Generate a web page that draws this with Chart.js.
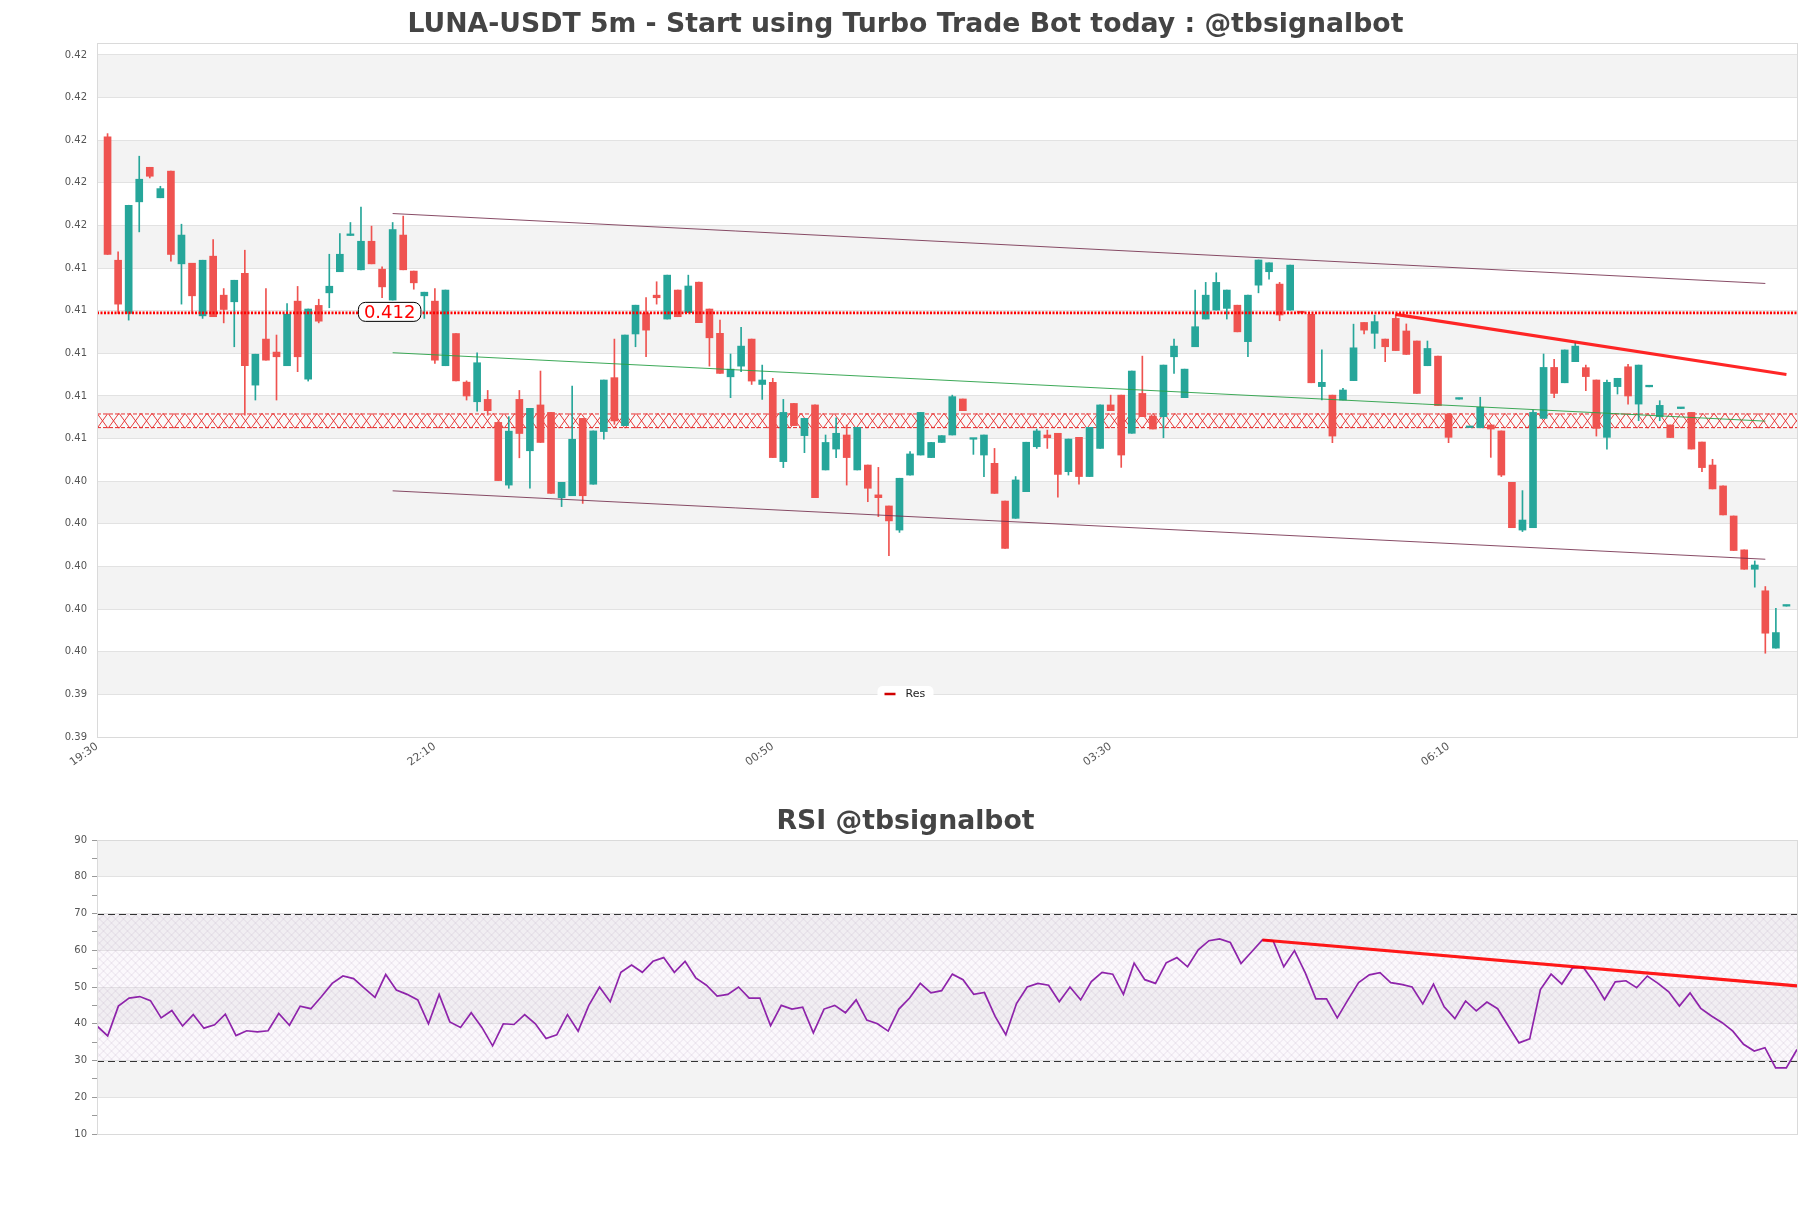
<!DOCTYPE html>
<html><head><meta charset="utf-8">
<script src="https://cdn.jsdelivr.net/npm/chart.js@4.4.1/dist/chart.umd.min.js"></script>
<style>
html,body{margin:0;padding:0;background:#fff;}
#c1{position:absolute;left:0;top:0;}
#c2{position:absolute;left:0;top:790px;}
</style></head><body>
<canvas id="c1" width="1811" height="770"></canvas>
<canvas id="c2" width="1811" height="418"></canvas>
<script>
const mainTitle = 'LUNA-USDT 5m - Start using Turbo Trade Bot today : @tbsignalbot';
const rsiTitle = 'RSI @tbsignalbot';
const xTickPositions = [0, 32, 64, 96, 128];
const xTickLabels = ['19:30', '22:10', '00:50', '03:30', '06:10'];
const yTickValues = [0.392,0.394,0.396,0.398,0.400,0.402,0.404,0.406,0.408,0.410,0.412,0.414,0.416,0.418,0.420,0.422,0.424];
const yRange = [0.392, 0.42456];

const open = [0.42016,0.41437,0.41187,0.41711,0.41873,0.41730,0.41855,0.41420,0.41423,0.41176,
0.41456,0.41273,0.41242,0.41376,0.40851,0.41067,0.41006,0.40942,0.41245,0.40879,
0.41225,0.41284,0.41383,0.41553,0.41392,0.41526,0.41395,0.41250,0.41555,0.41386,
0.41270,0.41245,0.40942,0.41093,0.40865,0.40773,0.40784,0.40676,0.40382,0.40784,
0.40543,0.40758,0.40723,0.40323,0.40332,0.40695,0.40386,0.40633,0.40886,0.40661,
0.41091,0.41187,0.41273,0.41161,0.41297,0.41191,0.41334,0.41208,0.41094,0.40890,
0.40940,0.41067,0.40854,0.40864,0.40492,0.40765,0.40614,0.40758,0.40453,0.40551,
0.40617,0.40453,0.40476,0.40336,0.40284,0.40171,0.40429,0.40523,0.40511,0.40582,
0.40617,0.40786,0.40597,0.40523,0.40484,0.40307,0.40226,0.40351,0.40562,0.40617,
0.40625,0.40445,0.40606,0.40422,0.40554,0.40758,0.40804,0.40625,0.40812,0.40706,
0.40703,0.40984,0.40792,0.41031,0.41161,0.41203,0.41211,0.41226,0.41055,0.41320,
0.41383,0.41325,0.41203,0.41192,0.41183,0.40844,0.40804,0.40781,0.40872,0.41145,
0.41094,0.41067,0.41164,0.41105,0.41058,0.40942,0.40987,0.40716,0.40785,0.40652,
0.40651,0.40664,0.40636,0.40395,0.40171,0.40182,0.40695,0.40934,0.40862,0.40961,
0.40933,0.40875,0.40606,0.40844,0.40937,0.40762,0.40843,0.40703,0.40664,0.40741,
0.40723,0.40584,0.40476,0.40378,0.40237,0.40078,0.39987,0.39886,0.39617,0.39814];
const high = [0.42031,0.41476,0.41695,0.41925,0.41873,0.41784,0.41855,0.41606,0.41423,0.41437,
0.41534,0.41304,0.41343,0.41484,0.40996,0.41304,0.41086,0.41234,0.41314,0.41208,
0.41254,0.41465,0.41562,0.41614,0.41686,0.41597,0.41406,0.41614,0.41644,0.41386,
0.41287,0.41304,0.41297,0.41093,0.40871,0.41003,0.40826,0.40676,0.40703,0.40826,
0.40742,0.40917,0.40723,0.40395,0.40847,0.40695,0.40636,0.40875,0.41067,0.41086,
0.41226,0.41262,0.41336,0.41367,0.41297,0.41367,0.41334,0.41208,0.41156,0.40997,
0.41122,0.41067,0.40945,0.40883,0.40784,0.40765,0.40695,0.40758,0.40617,0.40698,
0.40664,0.40653,0.40476,0.40465,0.40284,0.40414,0.40539,0.40723,0.40582,0.40614,
0.40804,0.40786,0.40599,0.40617,0.40554,0.40307,0.40422,0.40583,0.40645,0.40640,
0.40625,0.40598,0.40606,0.40653,0.40758,0.40804,0.40804,0.40917,0.40987,0.40706,
0.40945,0.41067,0.40926,0.41297,0.41333,0.41378,0.41297,0.41226,0.41273,0.41438,
0.41425,0.41333,0.41414,0.41192,0.41183,0.41016,0.40804,0.40836,0.41137,0.41145,
0.41180,0.41067,0.41184,0.41138,0.41058,0.41058,0.40987,0.40716,0.40787,0.40654,
0.40794,0.40664,0.40636,0.40395,0.40356,0.40734,0.40997,0.40972,0.41016,0.41050,
0.40945,0.40875,0.40875,0.40883,0.40948,0.40945,0.40845,0.40778,0.40664,0.40743,
0.40723,0.40584,0.40503,0.40378,0.40237,0.40078,0.40026,0.39906,0.39804,0.39816];
const low = [0.41464,0.41187,0.41156,0.41570,0.41823,0.41730,0.41433,0.41231,0.41187,0.41164,
0.41172,0.41143,0.41031,0.40710,0.40781,0.40968,0.40781,0.40942,0.40914,0.40870,
0.41143,0.41214,0.41383,0.41553,0.41392,0.41420,0.41261,0.41250,0.41392,0.41301,
0.41164,0.40953,0.40942,0.40871,0.40781,0.40729,0.40710,0.40403,0.40367,0.40510,
0.40367,0.40582,0.40343,0.40281,0.40332,0.40296,0.40386,0.40597,0.40667,0.40661,
0.41031,0.40984,0.41231,0.41161,0.41172,0.41191,0.41144,0.40940,0.40906,0.40792,
0.40914,0.40854,0.40784,0.40511,0.40464,0.40661,0.40534,0.40323,0.40453,0.40511,
0.40382,0.40453,0.40304,0.40234,0.40051,0.40160,0.40429,0.40523,0.40511,0.40582,
0.40617,0.40731,0.40526,0.40422,0.40343,0.40085,0.40226,0.40351,0.40554,0.40554,
0.40325,0.40429,0.40386,0.40422,0.40554,0.40731,0.40465,0.40625,0.40703,0.40645,
0.40604,0.40906,0.40792,0.41031,0.41161,0.41203,0.41161,0.41101,0.40984,0.41284,
0.41348,0.41153,0.41203,0.41190,0.40862,0.40781,0.40581,0.40781,0.40872,0.41091,
0.41023,0.40961,0.41013,0.40995,0.40812,0.40942,0.40755,0.40581,0.40785,0.40652,
0.40651,0.40512,0.40422,0.40182,0.40164,0.40182,0.40695,0.40792,0.40862,0.40961,
0.40825,0.40612,0.40551,0.40809,0.40762,0.40684,0.40843,0.40684,0.40605,0.40741,
0.40551,0.40445,0.40364,0.40242,0.40075,0.39987,0.39903,0.39593,0.39617,0.39814];
const close = [0.41464,0.41231,0.41695,0.41817,0.41831,0.41773,0.41464,0.41555,0.41270,0.41437,
0.41172,0.41206,0.41343,0.40942,0.40996,0.40968,0.40984,0.41184,0.40984,0.41208,
0.41151,0.41315,0.41465,0.41555,0.41526,0.41420,0.41312,0.41581,0.41392,0.41331,
0.41287,0.40968,0.41297,0.40871,0.40800,0.40956,0.40731,0.40403,0.40635,0.40624,
0.40742,0.40582,0.40343,0.40395,0.40597,0.40332,0.40636,0.40875,0.40683,0.41086,
0.41226,0.41109,0.41261,0.41367,0.41172,0.41316,0.41144,0.41073,0.40906,0.40926,
0.41034,0.40870,0.40875,0.40511,0.40723,0.40661,0.40695,0.40323,0.40582,0.40625,
0.40511,0.40653,0.40367,0.40323,0.40214,0.40414,0.40528,0.40723,0.40582,0.40614,
0.40797,0.40731,0.40599,0.40617,0.40343,0.40085,0.40406,0.40583,0.40636,0.40604,
0.40432,0.40598,0.40422,0.40653,0.40758,0.40731,0.40523,0.40917,0.40703,0.40645,
0.40945,0.41034,0.40926,0.41125,0.41273,0.41333,0.41297,0.41101,0.41273,0.41438,
0.41425,0.41180,0.41414,0.41190,0.40862,0.40864,0.40612,0.40828,0.41026,0.41109,
0.41149,0.41031,0.41013,0.40995,0.40812,0.41023,0.40755,0.40606,0.40787,0.40654,
0.40747,0.40645,0.40429,0.40182,0.40218,0.40723,0.40934,0.40812,0.41016,0.41034,
0.40891,0.40648,0.40864,0.40883,0.40800,0.40945,0.40845,0.40756,0.40605,0.40743,
0.40551,0.40464,0.40364,0.40242,0.40075,0.39987,0.40007,0.39687,0.39690,0.39816];

const resLevel = 0.4119;
const resLabel = '0.412';
const resLabelAt = 28;
const zoneRange = [0.40648, 0.40719];
const channelX = [28, 158];
const channelUpper = [0.41656, 0.41328];
const channelLower = [0.40355, 0.40034];
const channelMid = [0.41003, 0.40682];
const trendX = [123, 160];
const trendY = [0.41183, 0.40901];
const xRange = [0, 161];

const rsi = [39.4,36.7,44.8,47.0,47.4,46.3,41.6,43.6,39.4,42.5,
38.8,39.7,42.6,36.8,38.1,37.8,38.1,42.8,39.6,44.8,
44.1,47.4,51.0,53.0,52.3,49.7,47.2,53.4,49.2,48.0,
46.5,40.0,48.0,40.5,39.0,43.0,39.0,34.0,40.0,39.8,
42.5,40.0,36.0,37.0,42.5,38.0,45.0,50.0,46.0,54.0,
56.0,54.0,57.0,58.0,54.0,57.0,52.5,50.5,47.5,48.0,
50.0,47.0,47.0,39.5,45.0,44.0,44.5,37.5,44.0,45.0,
43.0,46.5,41.0,40.0,38.0,44.0,47.0,51.0,48.4,49.0,
53.5,52.0,48.0,48.5,42.0,37.0,45.5,50.0,51.0,50.5,
46.0,50.0,46.5,51.5,54.0,53.5,48.0,56.5,52.0,51.0,
56.6,58.0,55.5,60.1,62.6,63.1,62.1,56.4,59.6,62.8,
62.6,55.5,59.9,53.9,46.8,46.8,41.6,46.5,51.2,53.3,
53.9,51.2,50.7,50.0,45.4,50.8,44.6,41.4,46.2,43.5,
45.9,44.1,39.4,34.8,35.9,49.3,53.5,50.8,55.2,55.4,
51.4,46.6,51.4,51.7,49.8,53.0,51.0,48.7,44.8,48.4,
44.2,42.1,40.3,38.0,34.4,32.6,33.5,28.0,28.0,33.0];
const rsiTrendX = [109, 159];
const rsiTrendY = [62.8, 50.3];
const rsiBands = [30, 70];
const rsiRange = [10, 90];
const rsiBandTicks = [90, 80, 70, 60, 50, 40, 30, 20, 10];

const UP = '#26a69a', DOWN = '#ef5350';
Chart.defaults.font.family = "'DejaVu Sans', 'Liberation Sans', sans-serif";

const candleColors = open.map((o, i) => close[i] >= o ? UP : DOWN);
const pt = (xs, ys) => xs.map((x, i) => ({x, y: ys[i]}));

// empty right-side spacer axis (keeps titles centred on the full canvas)
const spacerAxis = {
  type: 'linear', position: 'right', display: true,
  afterFit: s => { s.width = 14; },
  ticks: {display: false}, grid: {display: false, drawTicks: false}, border: {display: false}
};

function drawBands(chart, values) {
  const {ctx, chartArea: a, scales: {y}} = chart;
  const t = values.slice().sort((p, q) => q - p);
  ctx.save();
  ctx.fillStyle = '#f3f3f3';
  for (let k = 0; k + 1 < t.length; k += 2) {
    const y1 = y.getPixelForValue(t[k]), y2 = y.getPixelForValue(t[k + 1]);
    ctx.fillRect(a.left, y1, a.right - a.left, y2 - y1);
  }
  ctx.restore();
}
function drawBorder(chart) {
  const {ctx, chartArea: a} = chart;
  ctx.save();
  ctx.strokeStyle = '#dadada';
  ctx.lineWidth = 1;
  ctx.strokeRect(Math.round(a.left) + 0.5, Math.round(a.top) + 0.5, Math.round(a.right - a.left), Math.round(a.bottom - a.top));
  ctx.restore();
}

const mainDecor = {
  id: 'mainDecor',
  beforeDraw(chart) {
    const {ctx} = chart;
    ctx.save(); ctx.fillStyle = '#fff'; ctx.fillRect(0, 0, chart.width, chart.height); ctx.restore();
    drawBands(chart, yTickValues);
  },
  beforeDatasetsDraw(chart) {
    const {ctx, chartArea: a, scales: {y}} = chart;
    const t = y.getPixelForValue(zoneRange[1]), b = y.getPixelForValue(zoneRange[0]);
    ctx.save();
    ctx.beginPath(); ctx.rect(a.left, t, a.right - a.left, b - t); ctx.clip();
    ctx.fillStyle = 'rgba(255,255,255,0.5)';
    ctx.fillRect(a.left, t, a.right - a.left, b - t);
    ctx.strokeStyle = 'rgba(230,40,40,0.9)';
    ctx.lineWidth = 1;
    const cw = 11;
    ctx.beginPath();
    for (let x = a.left; x < a.right + cw; x += cw) {
      ctx.moveTo(x, t); ctx.lineTo(x + cw, b);
      ctx.moveTo(x + cw, t); ctx.lineTo(x, b);
    }
    ctx.stroke();
    ctx.setLineDash([4, 2]);
    ctx.lineWidth = 1.3;
    ctx.beginPath();
    ctx.moveTo(a.left, t + 0.7); ctx.lineTo(a.right, t + 0.7);
    ctx.moveTo(a.left, b - 0.7); ctx.lineTo(a.right, b - 0.7);
    ctx.stroke();
    ctx.restore();
  },
  afterDatasetsDraw(chart) {
    const {ctx, chartArea: a, scales: {x, y}} = chart;
    drawBorder(chart);
    const cx = x.getPixelForValue(resLabelAt) - 3, cy = y.getPixelForValue(resLevel) - 1;
    ctx.save();
    ctx.font = "18px 'DejaVu Sans'";
    const w = ctx.measureText(resLabel).width + 11, h = 19;
    ctx.beginPath();
    ctx.roundRect(cx - w / 2, cy - h / 2, w, h, 7);
    ctx.fillStyle = '#fff'; ctx.fill();
    ctx.strokeStyle = '#000'; ctx.lineWidth = 1; ctx.stroke();
    ctx.fillStyle = '#ff0000';
    ctx.textAlign = 'center'; ctx.textBaseline = 'middle';
    ctx.fillText(resLabel, cx, cy + 1);
    const lx = chart.width / 2, ly = a.bottom - 43;
    ctx.font = "11px 'DejaVu Sans'";
    ctx.beginPath();
    ctx.roundRect(lx - 28, ly - 8, 56, 16, 5);
    ctx.fillStyle = 'rgba(255,255,255,0.95)'; ctx.fill();
    ctx.strokeStyle = '#d00000'; ctx.lineWidth = 2.5; ctx.setLineDash([]);
    ctx.beginPath(); ctx.moveTo(lx - 21, ly); ctx.lineTo(lx - 10, ly); ctx.stroke();
    ctx.fillStyle = '#222'; ctx.textAlign = 'left'; ctx.textBaseline = 'middle';
    ctx.fillText('Res', lx, ly);
    ctx.restore();
  }
};

new Chart(document.getElementById('c1'), {
  type: 'bar',
  data: {
    datasets: [
      {type: 'line', label: 'Res', data: pt(xRange, [resLevel, resLevel]),
       borderColor: '#ff0000', borderWidth: 2.6, borderDash: [2, 1.5], pointRadius: 0, fill: false},
      {type: 'line', label: 'Trend', data: pt(trendX, trendY), borderColor: 'rgba(255,0,0,0.85)', borderWidth: 3.2, pointRadius: 0, fill: false},
      {type: 'line', label: 'Upper', data: pt(channelX, channelUpper), borderColor: 'rgba(115,45,75,0.85)', borderWidth: 1, pointRadius: 0, fill: false},
      {type: 'line', label: 'Lower', data: pt(channelX, channelLower), borderColor: 'rgba(115,45,75,0.85)', borderWidth: 1, pointRadius: 0, fill: false},
      {type: 'line', label: 'Mid', data: pt(channelX, channelMid), borderColor: 'rgba(40,160,70,0.9)', borderWidth: 1, pointRadius: 0, fill: false},
      {type: 'bar', label: 'Body', data: open.map((o, i) => ({x: i + 1, y: [Math.min(o, close[i]), Math.max(o, close[i])]})),
       backgroundColor: candleColors, barThickness: 7, minBarLength: 1.6, grouped: false, borderWidth: 0},
      {type: 'bar', label: 'Wick', data: open.map((o, i) => ({x: i + 1, y: [low[i], high[i]]})),
       backgroundColor: candleColors, barThickness: 1, minBarLength: 1, grouped: false, borderWidth: 0}
    ]
  },
  options: {
    responsive: false, animation: false,
    layout: {padding: 0},
    plugins: {
      legend: {display: false}, tooltip: {enabled: false},
      title: {display: true, text: mainTitle, color: '#444', font: {size: 26.7, weight: 'bold'}, padding: {top: 9, bottom: 2}}
    },
    scales: {
      x: {
        type: 'linear', min: xRange[0], max: xRange[1], offset: false,
        afterBuildTicks: s => { s.ticks = xTickPositions.map(v => ({value: v})); },
        afterFit: s => { s.height = 33; },
        ticks: {autoSkip: false, minRotation: 35, maxRotation: 35, padding: 3, color: '#555', font: {size: 11},
                callback: v => xTickLabels[xTickPositions.indexOf(v)]},
        grid: {display: false, drawTicks: false}, border: {display: false}
      },
      y: {
        type: 'linear', position: 'left', min: yRange[0], max: yRange[1],
        afterBuildTicks: s => { s.ticks = yTickValues.map(v => ({value: v})); },
        afterFit: s => { s.width = 97; },
        ticks: {padding: 10, color: '#555', font: {size: 10}, callback: v => Number(v).toFixed(2)},
        grid: {color: '#e2e2e2', drawTicks: false}, border: {display: false}
      },
      spacer: spacerAxis
    }
  },
  plugins: [mainDecor]
});

const rsiDecor = {
  id: 'rsiDecor',
  beforeDraw(chart) {
    const {ctx} = chart;
    ctx.save(); ctx.fillStyle = '#fff'; ctx.fillRect(0, 0, chart.width, chart.height); ctx.restore();
    drawBands(chart, rsiBandTicks);
  },
  beforeDatasetsDraw(chart) {
    const {ctx, chartArea: a, scales: {y}} = chart;
    const t = y.getPixelForValue(rsiBands[1]), b = y.getPixelForValue(rsiBands[0]);
    const h = b - t;
    ctx.save();
    ctx.beginPath(); ctx.rect(a.left, t, a.right - a.left, h); ctx.clip();
    ctx.fillStyle = 'rgba(235,215,240,0.18)';
    ctx.fillRect(a.left, t, a.right - a.left, h);
    ctx.strokeStyle = 'rgba(175,150,185,0.32)';
    ctx.lineWidth = 0.7;
    ctx.beginPath();
    for (let k = -h; k < a.right - a.left + h; k += 8) {
      ctx.moveTo(a.left + k, t); ctx.lineTo(a.left + k + h, b);
      ctx.moveTo(a.left + k + h, t); ctx.lineTo(a.left + k, b);
    }
    ctx.stroke();
    ctx.restore();
    ctx.save();
    ctx.strokeStyle = '#333'; ctx.lineWidth = 1.2; ctx.setLineDash([7, 4]);
    ctx.beginPath();
    ctx.moveTo(a.left, Math.round(t) + 0.5); ctx.lineTo(a.right, Math.round(t) + 0.5);
    ctx.moveTo(a.left, Math.round(b) + 0.5); ctx.lineTo(a.right, Math.round(b) + 0.5);
    ctx.stroke();
    ctx.restore();
  },
  afterDatasetsDraw(chart) { drawBorder(chart); }
};

new Chart(document.getElementById('c2'), {
  type: 'line',
  data: {
    datasets: [
      {label: 'RSI trend', data: pt(rsiTrendX, rsiTrendY), borderColor: 'rgba(255,0,0,0.9)', borderWidth: 3.2, pointRadius: 0, fill: false},
      {label: 'RSI', data: rsi.map((v, i) => ({x: i, y: v})), borderColor: '#8e24aa', borderWidth: 1.7, pointRadius: 0, tension: 0, fill: false}
    ]
  },
  options: {
    responsive: false, animation: false,
    layout: {padding: {left: 0, right: 0, top: 0, bottom: 74}},
    plugins: {
      legend: {display: false}, tooltip: {enabled: false},
      title: {display: true, text: rsiTitle, color: '#444', font: {size: 26.7, weight: 'bold'}, padding: {top: 16, bottom: 2}}
    },
    scales: {
      x: {type: 'linear', min: 0, max: rsi.length - 1, display: false},
      y: {
        position: 'left', min: rsiRange[0], max: rsiRange[1],
        afterFit: s => { s.width = 97; },
        ticks: {stepSize: 5, autoSkip: false, padding: 5, color: '#555', font: {size: 10},
                callback: v => (v % 10 === 0 ? String(v) : '')},
        grid: {color: c => (c.tick && c.tick.value % 10 === 0) ? '#e2e2e2' : 'rgba(0,0,0,0)', tickColor: '#999', tickLength: 5},
        border: {display: false}
      },
      spacer: spacerAxis
    }
  },
  plugins: [rsiDecor]
});
</script>
</body></html>
